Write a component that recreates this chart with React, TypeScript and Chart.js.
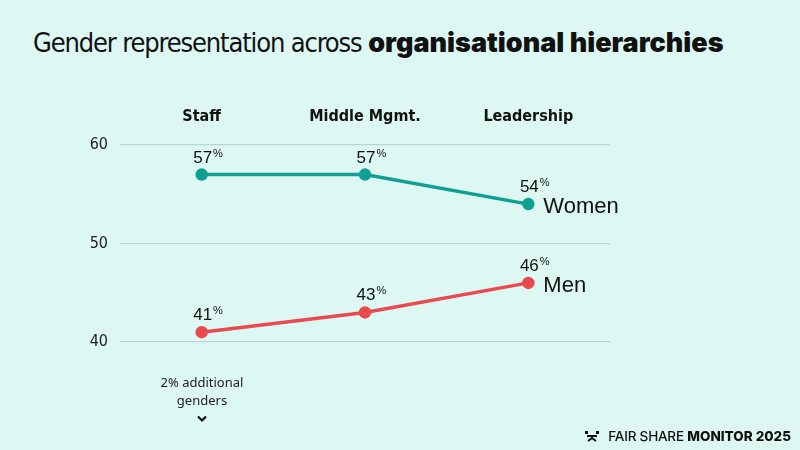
import React, { useEffect, useRef } from "react";
import { Chart, registerables } from "chart.js";

Chart.register(...registerables);

const categories = ["Staff", "Middle Mgmt.", "Leadership"];
const women = [57, 57, 54];
const men = [41, 43, 46];
const yTicks = [40, 50, 60];
const seriesNames = ["Women", "Men"];

const BG = "#ddf8f2";
const TEAL = "#0fa093";
const RED = "#e9494f";
const NARROW = '"Liberation Sans Narrow", "DejaVu Sans Condensed", "Roboto Condensed", sans-serif';

const labelsPlugin = {
  id: "customLabels",
  afterDatasetsDraw(chart: any) {
    const ctx = chart.ctx;
    const xs = chart.scales.x;
    ctx.save();
    // category headers
    ctx.fillStyle = "#111";
    ctx.font = `bold 16px ${NARROW}`;
    ctx.textAlign = "center";
    ctx.textBaseline = "alphabetic";
    categories.forEach((c, i) => {
      ctx.fillText(c, xs.getPixelForValue(i), 121);
    });
    // value labels
    chart.data.datasets.forEach((ds: any, di: number) => {
      const meta = chart.getDatasetMeta(di);
      meta.data.forEach((pt: any, i: number) => {
        const v = String(ds.data[i]);
        ctx.font = '17px "Liberation Sans", Arial, sans-serif';
        ctx.fillStyle = "#111";
        ctx.textAlign = "center";
        const w = ctx.measureText(v).width;
        const x = pt.x + 1;
        const y = pt.y - 12;
        ctx.fillText(v, x, y);
        ctx.font = '11px "Liberation Sans", Arial, sans-serif';
        ctx.textAlign = "left";
        ctx.fillText("%", x + w / 2 + 1, y - 6);
      });
      const last = meta.data[meta.data.length - 1];
      ctx.font = '22px "Liberation Sans", Arial, sans-serif';
      ctx.textAlign = "left";
      ctx.textBaseline = "middle";
      ctx.fillStyle = "#111";
      ctx.fillText(seriesNames[di], last.x + 15, last.y + 3);
      ctx.textBaseline = "alphabetic";
    });
    ctx.restore();
  },
};

export default function App() {
  const ref = useRef<HTMLCanvasElement>(null);
  useEffect(() => {
    document.body.style.margin = "0";
    const chart = new Chart(ref.current!, {
      type: "line",
      data: {
        labels: categories,
        datasets: [
          {
            label: seriesNames[0],
            data: women,
            borderColor: TEAL,
            backgroundColor: TEAL,
            borderWidth: 3.5,
            pointRadius: 4.5,
            pointHoverRadius: 4.5,
            tension: 0,
          },
          {
            label: seriesNames[1],
            data: men,
            borderColor: RED,
            backgroundColor: RED,
            borderWidth: 3.5,
            pointRadius: 4.5,
            pointHoverRadius: 4.5,
            tension: 0,
          },
        ],
      },
      options: {
        responsive: false,
        animation: false,
        clip: false as any,
        layout: { padding: { left: 80, right: 190, top: 145, bottom: 108 } },
        plugins: { legend: { display: false }, tooltip: { enabled: false } },
        scales: {
          x: {
            type: "category",
            offset: true,
            display: false,
          },
          y: {
            min: 40,
            max: 60,
            afterFit: (s: any) => {
              s.width = 40;
            },
            afterBuildTicks: (s: any) => {
              s.ticks = yTicks.map((v) => ({ value: v }));
            },
            border: { display: false },
            grid: { color: "#b7d6d1", lineWidth: 1.2, drawTicks: false },
            ticks: {
              padding: 12,
              color: "#222",
              font: { family: NARROW, size: 16 },
            },
          },
        },
      },
      plugins: [labelsPlugin],
    });
    return () => chart.destroy();
  }, []);

  return (
    <div style={{ position: "fixed", left: 0, top: 0, width: 800, height: 450, background: BG, overflow: "hidden" }}>
      <div
        style={{
          position: "absolute",
          left: 33,
          top: 26,
          fontSize: 27,
          color: "#111",
          whiteSpace: "nowrap",
        }}
      >
        <span style={{ fontFamily: NARROW, letterSpacing: -1.15 }}>Gender representation across </span>
        <span style={{ fontFamily: '"Inter", "Roboto", sans-serif', fontWeight: 900, letterSpacing: 0 }}>organisational hierarchies</span>
      </div>
      <canvas ref={ref} width={800} height={450} style={{ position: "absolute", left: 0, top: 0 }} />
      <div
        style={{
          position: "absolute",
          left: 102,
          width: 200,
          top: 373,
          textAlign: "center",
          fontFamily: '"Noto Sans", sans-serif',
          fontSize: 13,
          lineHeight: "18px",
          color: "#222",
        }}
      >
        2% additional
        <br />
        genders
        <svg width="12" height="8" viewBox="0 0 12 8" style={{ display: "block", margin: "6px auto 0" }}>
          <polyline points="2,1.5 6,5.5 10,1.5" fill="none" stroke="#111" strokeWidth="2.2" />
        </svg>
      </div>
      <div
        style={{
          position: "absolute",
          right: 9,
          top: 428,
          display: "flex",
          alignItems: "center",
          fontFamily: '"Inter", "Roboto", sans-serif',
          fontSize: 13.5,
          color: "#111",
          whiteSpace: "nowrap",
        }}
      >
        <svg width="16" height="12" viewBox="0 0 16 12" style={{ marginRight: 8 }}>
          <rect x="1" y="1" width="3" height="3" fill="#111" />
          <rect x="12" y="1" width="3" height="3" fill="#111" />
          <rect x="3" y="5" width="10" height="2" fill="#111" />
          <polyline points="4,11 8,8 12,11" fill="none" stroke="#111" strokeWidth="2" />
        </svg>
        <span style={{ fontWeight: 500, letterSpacing: -0.2 }}>FAIR SHARE&nbsp;</span>
        <span style={{ fontWeight: 800 }}>MONITOR 2025</span>
      </div>
    </div>
  );
}
